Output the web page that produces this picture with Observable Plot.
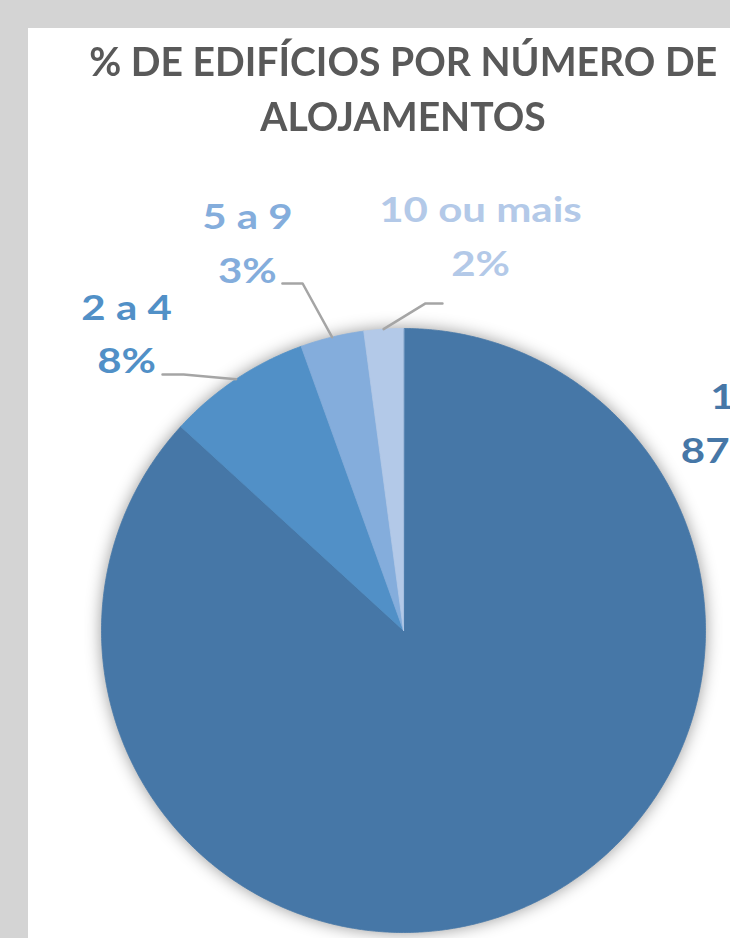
<!DOCTYPE html>
<html>
<head>
<meta charset="utf-8">
<script src="https://cdn.jsdelivr.net/npm/d3@7"></script>
<script src="https://cdn.jsdelivr.net/npm/@observablehq/plot@0.6"></script>
<style>
  html, body { margin: 0; padding: 0; }
  body { background: #d4d4d4; width: 730px; height: 938px; overflow: hidden; position: relative; }
  #panel { position: absolute; left: 28px; top: 28px; width: 750px; height: 910px; background: #fff; overflow: hidden; }
  #title { position: absolute; left: 0; top: 0; width: 750px; color: #595959; font-family: Lato, "Open Sans", sans-serif; font-weight: 700; font-size: 40px; }
  #title .tl { position: absolute; left: 0; width: 750px; height: 55px; line-height: 55px; text-align: center; white-space: nowrap; }
  #title .tl span { display: inline-block; transform-origin: 50% 50%; }
  #chart { position: absolute; left: 0; top: 122px; }
</style>
</head>
<body>
<div id="panel">
  <div id="title">
    <div class="tl" style="top:6px"><span>% DE EDIFÍCIOS POR NÚMERO DE</span></div>
    <div class="tl" style="top:61px"><span>ALOJAMENTOS</span></div>
  </div>
  <div id="chart"></div>
</div>
<script>
// ---- data ----
const categories = ["1", "2 a 4", "5 a 9", "10 ou mais"];
const shares = [86.8, 7.7, 3.4, 2.1];
const sliceColors = ["#4677a7", "#5190c7", "#84addc", "#b3c9e8"];

// ---- label layout (in pie-radius units, relative to pie centre) ----
const labelAnchor = {
  "1":          {x: 1.056, y: 0.556},
  "2 a 4":      {x: -0.917, y: 0.851},
  "5 a 9":      {x: -0.517, y: 1.152},
  "10 ou mais": {x: 0.255, y: 1.175}
};
const leaderBend = {
  "2 a 4":      [{x: -0.728, y: 0.848}, {x: -0.798, y: 0.848}],
  "5 a 9":      [{x: -0.334, y: 1.149}, {x: -0.401, y: 1.149}],
  "10 ou mais": [{x: 0.073, y: 1.083}, {x: 0.129, y: 1.083}]
};

// ---- geometry from data ----
const total = d3.sum(shares);
let acc = 0;
const slices = categories.map((c, i) => {
  const a0 = acc / total * 2 * Math.PI;
  acc += shares[i];
  const a1 = acc / total * 2 * Math.PI;
  return {c, value: shares[i], a0, a1, mid: (a0 + a1) / 2};
});
const slicePts = slices.flatMap(s => {
  const n = Math.max(2, Math.ceil((s.a1 - s.a0) / (Math.PI / 360)));
  const pts = [{c: s.c, x: 0, y: 0}];
  for (let k = 0; k <= n; k++) {
    const a = s.a0 + (s.a1 - s.a0) * k / n;
    pts.push({c: s.c, x: Math.sin(a), y: Math.cos(a)});
  }
  return pts;
});
const labelRows = slices.map(s => ({
  c: s.c,
  x: labelAnchor[s.c].x,
  y: labelAnchor[s.c].y,
  text: `${s.c}\n${Math.round(s.value)}%`
}));
const leaderPts = slices.filter(s => leaderBend[s.c]).flatMap(s => [
  {c: s.c, x: Math.sin(s.mid), y: Math.cos(s.mid)},
  ...leaderBend[s.c].map(p => ({c: s.c, ...p}))
]);

// ---- plot ----
const W = 750, H = 788, R = 302, cx = 375, cy = 480;
const chart = Plot.plot({
  width: W, height: H,
  margin: 0,
  style: {background: "transparent", overflow: "visible"},
  x: {domain: [-cx / R, (W - cx) / R], axis: null},
  y: {domain: [-(H - cy) / R, cy / R], axis: null},
  color: {domain: categories, range: sliceColors},
  marks: [
    Plot.line(slicePts, {x: "x", y: "y", z: "c", fill: "c", stroke: "c", strokeWidth: 0.8, curve: "linear-closed"}),
    Plot.line(leaderPts, {x: "x", y: "y", z: "c", stroke: "#a5a5a5", strokeWidth: 2.5}),
    Plot.text(labelRows, {
      x: "x", y: "y", text: "text", fill: "c",
      fontSize: 35, fontWeight: "bold", fontFamily: "Lato, 'Open Sans', sans-serif",
      lineAnchor: "bottom", lineHeight: 1.543, textAnchor: "middle"
    })
  ]
});
document.getElementById("chart").appendChild(chart);
const pieGroup = chart.querySelector('g[aria-label="line"]');
if (pieGroup) pieGroup.style.filter = "drop-shadow(0 0 8px rgba(0,0,0,0.4))";
// widen label glyphs like the reference's font
chart.querySelectorAll('g[aria-label="text"] text').forEach(t => {
  const tr = t.getAttribute("transform") || "";
  t.setAttribute("transform", tr + " scale(1.2,1)");
});

// fit title width like the reference
const spans = document.querySelectorAll("#title .tl span");
const w0 = spans[0].getBoundingClientRect().width;
const k = 628 / w0;
spans.forEach(s => s.style.transform = `scaleX(${k})`);
</script>
</body>
</html>
